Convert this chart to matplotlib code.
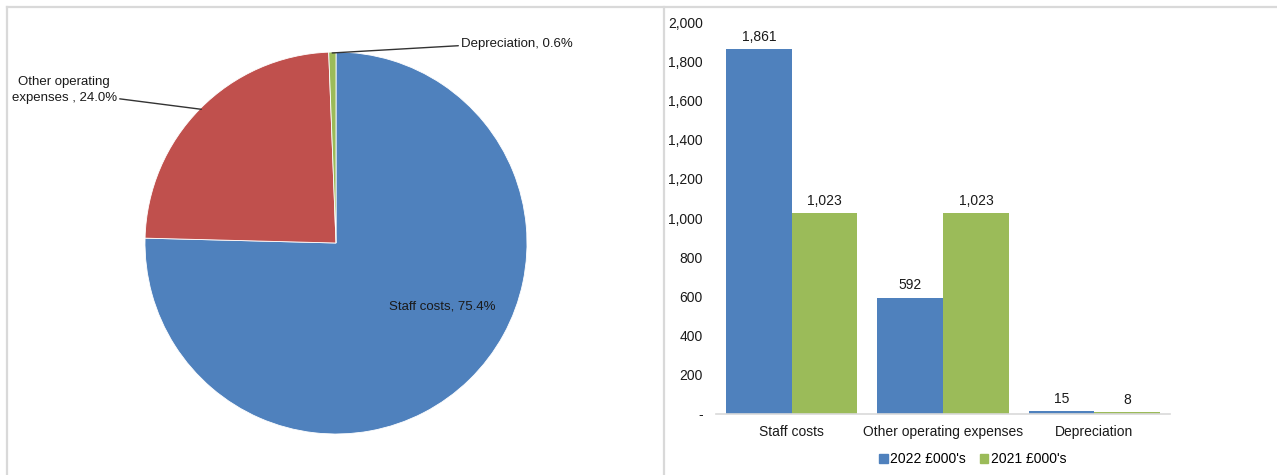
import matplotlib
matplotlib.use("Agg")
import matplotlib.pyplot as plt
from matplotlib.lines import Line2D
from matplotlib.patches import Patch
import numpy as np

plt.rcParams['font.family'] = ['Liberation Sans', 'DejaVu Sans']

categories = ["Staff costs", "Other operating expenses", "Depreciation"]
values_2022 = [1861, 592, 15]
values_2021 = [1023, 1023, 8]
series_names = ["2022 £000's", "2021 £000's"]
pie_labels = ["Staff costs", "Other operating\nexpenses ", "Depreciation"]
y_ticks = [0, 200, 400, 600, 800, 1000, 1200, 1400, 1600, 1800, 2000]

BLUE = "#4F81BD"
RED = "#C0504D"
GREEN = "#9BBB59"
GRID = "#D9D9D9"

W, H = 1277, 475
fig = plt.figure(figsize=(W / 100, H / 100), dpi=100)

def fx(px):
    return px / W

def fy(py):
    return 1 - py / H

# panel frames
for line in [
    Line2D([fx(7), fx(1277)], [fy(7), fy(7)]),
    Line2D([fx(7), fx(7)], [fy(7), fy(475)]),
    Line2D([fx(663.5), fx(663.5)], [fy(7), fy(475)]),
]:
    line.set_color(GRID)
    line.set_linewidth(1.6)
    fig.add_artist(line)

# ---- pie of 2022 spend ----
cx, cy, r = 336, 243, 191
ax_pie = fig.add_axes([fx(cx - r), fy(cy + r), 2 * r / W, 2 * r / H])
wedges, _ = ax_pie.pie(values_2022, colors=[BLUE, RED, GREEN], startangle=90,
                       counterclock=False, radius=1.0,
                       wedgeprops=dict(linewidth=0.6, edgecolor="white"))
ax_pie.set_xlim(-1, 1)
ax_pie.set_ylim(-1, 1)
ax_pie.set_aspect("auto")
ax_pie.axis("off")

total = sum(values_2022)
pcts = [v / total * 100 for v in values_2022]

# Staff costs label inside
ax_pie.text(0.555, -0.335, f"{pie_labels[0]}, {pcts[0]:.1f}%", fontsize=9.5,
            ha="center", va="center", color="#1a1a1a")

# Other operating expenses label with leader line
ax_pie.annotate(f"{pie_labels[1]}, {pcts[1]:.1f}%", xy=(-0.705, 0.70),
                xytext=(-1.147, 0.80), fontsize=9.5, ha="right", va="center",
                multialignment="center", color="#1a1a1a", linespacing=1.4,
                arrowprops=dict(arrowstyle="-", color="#333333", lw=1.0,
                                shrinkA=0, shrinkB=0, relpos=(1.0, 0.2)))

# Depreciation label with leader line
ax_pie.annotate(f"{pie_labels[2]}, {pcts[2]:.1f}%", xy=(-0.02, 0.995),
                xytext=(0.655, 1.04), fontsize=9.5, ha="left", va="center",
                color="#1a1a1a",
                arrowprops=dict(arrowstyle="-", color="#333333", lw=1.0,
                                shrinkA=0, shrinkB=0, relpos=(0.0, 0.4)))

# ---- bar chart ----
x0, x1 = 716, 1170
y_top, y_bot = 22, 414
ax = fig.add_axes([fx(x0), fy(y_bot), (x1 - x0) / W, (y_bot - y_top) / H])
x = np.arange(len(categories))
bw = 0.435
b1 = ax.bar(x - bw / 2, values_2022, bw, color=BLUE, label=series_names[0])
b2 = ax.bar(x + bw / 2, values_2021, bw, color=GREEN, label=series_names[1])

for bars, vals in [(b1, values_2022), (b2, values_2021)]:
    for rect, v in zip(bars, vals):
        ax.text(rect.get_x() + rect.get_width() / 2, v + 28, f"{v:,}",
                ha="center", va="bottom", fontsize=10, color="#1a1a1a")

ax.set_xlim(-0.5, len(categories) - 0.5)
ax.set_ylim(0, 2000)
ax.set_yticks(y_ticks)
ax.set_yticklabels(["-" if t == 0 else f"{t:,}" for t in y_ticks])
ax.set_xticks(x)
ax.set_xticklabels(categories)
ax.tick_params(axis="both", length=0, labelsize=10, colors="#1a1a1a")
ax.tick_params(axis="y", pad=9.5)
ax.tick_params(axis="x", pad=8)
for s in ["top", "right", "left"]:
    ax.spines[s].set_visible(False)
ax.spines["bottom"].set_color(GRID)
ax.spines["bottom"].set_linewidth(1.2)

handles = [Patch(color=BLUE), Patch(color=GREEN)]
fig.legend(handles, series_names, loc="center", bbox_to_anchor=(fx(973), fy(459)),
           ncol=2, frameon=False, fontsize=10, handlelength=0.6,
           handleheight=0.6, handletextpad=0.2, columnspacing=1.0)

fig.savefig("out.png", dpi=100, facecolor="white")
